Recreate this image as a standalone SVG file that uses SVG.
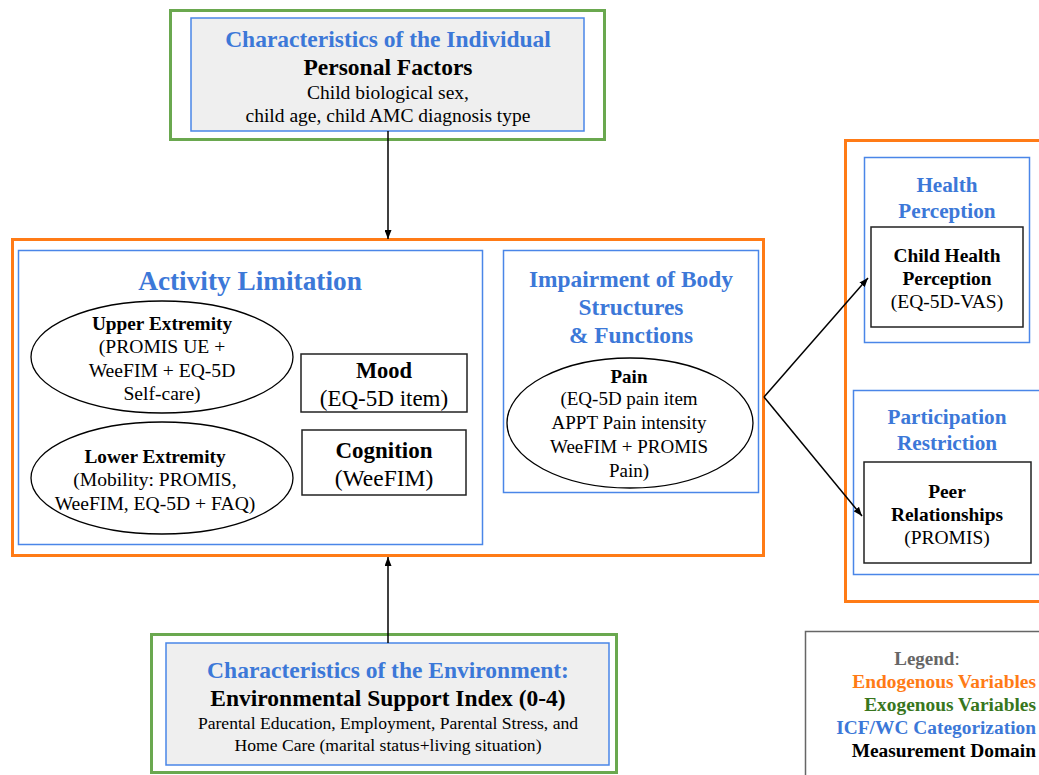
<svg xmlns="http://www.w3.org/2000/svg" width="1039" height="775" viewBox="0 0 1039 775">
<defs>
<style>
text{font-family:"Liberation Serif","Times New Roman",serif;text-anchor:middle;fill:#000}
.green{fill:none;stroke:#6aa84f;stroke-width:3}
.orange{fill:none;stroke:#ff7b16;stroke-width:3}
.blue{fill:none;stroke:#4a86e8;stroke-width:1.5}
.bluegray{fill:#efefef;stroke:#4a86e8;stroke-width:1.5}
.blk{fill:#fff;stroke:#222;stroke-width:1.5}
.ell{fill:#fff;stroke:#000;stroke-width:1.3}
.bt{fill:#3c78d8;font-weight:bold}
.b{font-weight:bold}
.conn{stroke:#000;stroke-width:1.5;fill:none}
.leg{font-weight:bold;font-size:19.4px;text-anchor:end}
</style>
<marker id="ah" viewBox="0 0 10 10" refX="10" refY="5" markerWidth="9" markerHeight="7" markerUnits="userSpaceOnUse" orient="auto" preserveAspectRatio="none">
<path d="M0,0 L10,5 L0,10 z" fill="#000"/>
</marker>
</defs>
<rect width="1039" height="775" fill="#fff"/>

<g id="individual">
<rect class="green" x="170.5" y="10.5" width="434" height="129"/>
<rect class="bluegray" x="191" y="18" width="393" height="113"/>
<text class="bt" x="388" y="47" font-size="23.5">Characteristics of the Individual</text>
<text class="b" x="388" y="75" font-size="23.5">Personal Factors</text>
<text x="388" y="99" font-size="19.5">Child biological sex,</text>
<text x="388" y="122" font-size="19.5">child age, child AMC diagnosis type</text>
</g>

<g id="endogenous-main">
<rect class="orange" x="12.5" y="239.5" width="751" height="316"/>
</g>

<g id="activity">
<rect class="blue" x="18.5" y="250.5" width="464" height="294"/>
<text class="bt" x="250" y="290" font-size="27.3">Activity Limitation</text>
</g>

<g id="upper">
<ellipse class="ell" cx="162" cy="357" rx="131" ry="56"/>
<text class="b" x="162" y="330" font-size="19.3">Upper Extremity</text>
<text x="162" y="353" font-size="19.6">(PROMIS UE +</text>
<text x="162" y="377" font-size="19.6">WeeFIM + EQ-5D</text>
<text x="162" y="400" font-size="19.6">Self-care)</text>
</g>

<g id="lower">
<ellipse class="ell" cx="162" cy="478" rx="131" ry="56"/>
<text class="b" x="155" y="463" font-size="19.3">Lower Extremity</text>
<text x="155" y="486" font-size="19.6">(Mobility: PROMIS,</text>
<text x="155" y="510" font-size="19.6">WeeFIM, EQ-5D + FAQ)</text>
</g>

<g id="mood">
<rect class="blk" x="301" y="354" width="166" height="58"/>
<text class="b" x="384" y="378" font-size="22.5">Mood</text>
<text x="384" y="406" font-size="23">(EQ-5D item)</text>
</g>

<g id="cognition">
<rect class="blk" x="302" y="430" width="164" height="65"/>
<text class="b" x="384" y="458" font-size="23">Cognition</text>
<text x="384" y="486" font-size="23.5">(WeeFIM)</text>
</g>

<g id="impairment">
<rect class="blue" x="503.5" y="250.5" width="255" height="242"/>
<text class="bt" x="631" y="287" font-size="23.4">Impairment of Body</text>
<text class="bt" x="631" y="315" font-size="23.4">Structures</text>
<text class="bt" x="631" y="343" font-size="23.4">&amp; Functions</text>
</g>

<g id="pain">
<ellipse class="ell" cx="630" cy="423" rx="123" ry="65"/>
<text class="b" x="629" y="383" font-size="19">Pain</text>
<text x="629" y="405" font-size="19">(EQ-5D pain item</text>
<text x="629" y="429" font-size="19">APPT Pain intensity</text>
<text x="629" y="453" font-size="19">WeeFIM + PROMIS</text>
<text x="629" y="477" font-size="19">Pain)</text>
</g>

<g id="endogenous-right">
<rect class="orange" x="845.5" y="140.5" width="200" height="461"/>
</g>

<g id="health-perception">
<rect class="blue" x="864.5" y="157.5" width="165" height="185"/>
<text class="bt" x="947" y="192" font-size="21.2">Health</text>
<text class="bt" x="947" y="218" font-size="21.2">Perception</text>
</g>

<g id="child-health">
<rect class="blk" x="871" y="227" width="152" height="100"/>
<text class="b" x="947" y="262" font-size="19.4">Child Health</text>
<text class="b" x="947" y="285" font-size="19.4">Perception</text>
<text x="947" y="308" font-size="19.5">(EQ-5D-VAS)</text>
</g>

<g id="participation">
<rect class="blue" x="853.5" y="390.5" width="200" height="184"/>
<text class="bt" x="947" y="424" font-size="21.2">Participation</text>
<text class="bt" x="947" y="450" font-size="21.2">Restriction</text>
</g>

<g id="peer">
<rect class="blk" x="864" y="462" width="167" height="101"/>
<text class="b" x="947" y="498" font-size="19.4">Peer</text>
<text class="b" x="947" y="521" font-size="19.4">Relationships</text>
<text x="947" y="544" font-size="19.5">(PROMIS)</text>
</g>

<g id="environment">
<rect class="green" x="151.5" y="634.5" width="465" height="138"/>
<rect class="bluegray" x="166" y="643" width="443" height="122"/>
<text class="bt" x="388" y="678" font-size="23.5">Characteristics of the Environment:</text>
<text class="b" x="388" y="706" font-size="23.5">Environmental Support Index (0-4)</text>
<text x="388" y="729" font-size="17.6">Parental Education, Employment, Parental Stress, and</text>
<text x="388" y="751" font-size="17.6">Home Care (marital status+living situation)</text>
</g>

<g id="legend">
<rect x="805.5" y="631.5" width="250" height="160" fill="none" stroke="#666" stroke-width="1.5"/>
<text x="927" y="665" font-size="19" style="fill:#666"><tspan font-weight="bold" style="fill:#666">Legend</tspan><tspan style="fill:#666">:</tspan></text>
<text class="leg" x="1036" y="688" style="fill:#ff7b16">Endogenous Variables</text>
<text class="leg" x="1036" y="711" style="fill:#38761d">Exogenous Variables</text>
<text class="leg" x="1036" y="734" style="fill:#3c78d8">ICF/WC Categorization</text>
<text class="leg" x="1036" y="757">Measurement Domain</text>
</g>

<g id="connectors">
<line class="conn" x1="388" y1="131" x2="388" y2="239" marker-end="url(#ah)"/>
<line class="conn" x1="388" y1="643" x2="388" y2="557" marker-end="url(#ah)"/>
<line class="conn" x1="764" y1="397" x2="868" y2="278" marker-end="url(#ah)"/>
<line class="conn" x1="764" y1="397" x2="862" y2="516" marker-end="url(#ah)"/>
</g>
</svg>
